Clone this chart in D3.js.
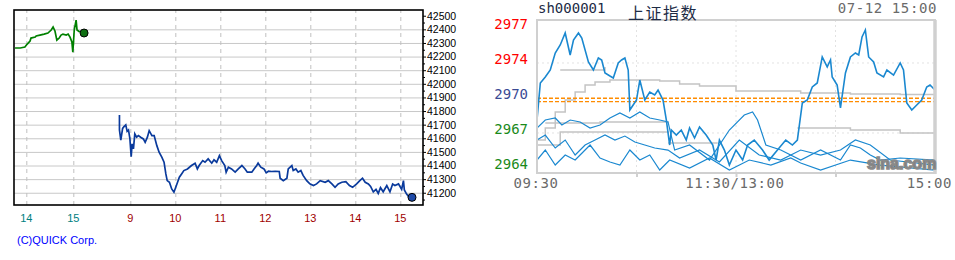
<!DOCTYPE html>
<html>
<head>
<meta charset="utf-8">
<script src="https://cdn.jsdelivr.net/npm/d3@7"></script>
<style>
  body { margin: 0; background: #fff; }
  svg text { font-family: "Liberation Sans", Arial, sans-serif; }
  .mono { font-family: "DejaVu Sans Mono", monospace !important; }
</style>
</head>
<body>
<svg id="chart" width="955" height="260"></svg>
<script>
// ---------- left chart (QUICK) ----------
// day 1 afternoon, hours
var day1Times  = [13.76, 13.87, 13.97, 14.02, 14.08, 14.10, 14.19, 14.21, 14.29, 14.38, 14.46, 14.53, 14.57, 14.61,
                  14.65, 14.70, 14.74, 14.78, 14.85, 14.89, 14.93, 14.97, 14.99, 15.02, 15.06, 15.08, 15.14, 15.23];
var day1Values = [42263, 42263, 42270, 42292, 42314, 42336, 42343, 42351, 42358, 42365, 42373, 42395, 42417, 42388,
                  42321, 42336, 42358, 42365, 42358, 42365, 42343, 42307, 42233, 42395, 42468, 42395, 42380, 42373];

// day 2, hours
var day2Times  = [8.76, 8.76, 8.79, 8.83, 8.86, 8.90, 8.93, 8.96, 8.99, 9.02, 9.04, 9.07, 9.10, 9.14, 9.18, 9.23,
                  9.29, 9.33, 9.38, 9.42, 9.48, 9.53, 9.59, 9.64, 9.70, 9.75, 9.79, 9.82, 9.87, 9.92, 9.97, 10.01,
                  10.05, 10.09, 10.14, 10.19, 10.27, 10.36, 10.44, 10.49, 10.53, 10.61, 10.66, 10.73, 10.81, 10.86,
                  10.92, 10.98, 11.03, 11.10, 11.13, 11.18, 11.25, 11.33, 11.40, 11.48, 11.55, 11.60, 11.70, 11.75,
                  11.81, 11.84, 11.90, 11.97, 12.02, 12.07, 12.14, 12.22, 12.31, 12.33, 12.40, 12.48, 12.51, 12.59,
                  12.62, 12.68, 12.73, 12.79, 12.84, 12.92, 12.99, 13.07, 13.14, 13.22, 13.33, 13.40, 13.48, 13.55,
                  13.62, 13.70, 13.79, 13.87, 13.94, 14.03, 14.10, 14.16, 14.22, 14.29, 14.34, 14.40, 14.46, 14.51,
                  14.56, 14.62, 14.70, 14.77, 14.83, 14.88, 14.96, 15.03, 15.07, 15.09, 15.14, 15.20, 15.26];
var day2Values = [41771, 41661, 41587, 41673, 41685, 41698, 41651, 41661, 41600, 41464, 41559, 41522, 41632, 41608, 41620, 41608,
                  41595, 41571, 41608, 41656, 41620, 41620, 41546, 41498, 41461, 41424, 41338, 41289, 41277, 41228, 41204, 41240,
                  41277, 41314, 41338, 41363, 41375, 41400, 41417, 41375, 41400, 41436, 41424, 41449, 41417, 41442,
                  41424, 41473, 41436, 41400, 41351, 41388, 41375, 41351, 41375, 41400, 41375, 41351, 41351, 41375,
                  41400, 41417, 41388, 41375, 41346, 41358, 41356, 41358, 41356, 41307, 41289, 41307, 41375, 41400,
                  41363, 41375, 41351, 41363, 41327, 41289, 41265, 41253, 41265, 41289, 41277, 41289, 41265, 41240,
                  41265, 41277, 41281, 41253, 41240, 41265, 41289, 41307, 41277, 41265, 41246, 41207, 41225, 41195,
                  41237, 41207, 41253, 41207, 41264, 41253, 41265, 41225, 41289, 41220, 41190, 41166, 41166];

var leftXTicks   = [14, 15, 33, 34, 35, 36, 37, 38, 39];   // day 2 hours are shifted by 24
var leftXLabels  = ["14", "15", "9", "10", "11", "12", "13", "14", "15"];
var leftYTicks   = [41200, 41300, 41400, 41500, 41600, 41700, 41800, 41900, 42000, 42100, 42200, 42300, 42400, 42500];
var leftGridY    = [41200, 41300, 41400, 41500, 41600, 41700, 41800, 41900, 42000, 42100, 42200, 42300, 42400];

// ---------- right chart (sh000001) ----------
var shMinutes = [0, 2, 5, 8, 11, 14, 17, 20, 22, 25, 27, 31, 34, 37, 39, 41, 44, 46, 49, 51, 53, 55, 56, 58, 60, 62, 65,
                 68, 71, 73, 76, 78, 80, 81, 84, 87, 90, 92, 95, 98, 102, 106, 108, 110, 113, 116, 120, 124, 127, 131,
                 136, 140, 145, 150, 154, 157, 160, 163, 166, 169, 172, 175, 177, 178, 181, 183, 186, 189, 192, 194,
                 196, 198, 200, 203, 205, 209, 211, 215, 219, 221, 223, 226, 229, 232, 235, 237, 240];
var shValues  = [2967.95, 2971.58, 2972.17, 2972.85, 2974.52, 2975.30, 2976.48, 2974.32, 2975.79, 2976.48, 2975.99,
                 2973.64, 2972.85, 2974.03, 2973.83, 2972.56, 2972.26, 2972.07, 2973.54, 2973.83, 2974.03, 2972.85,
                 2968.93, 2969.42, 2969.91, 2971.87, 2969.91, 2970.69, 2970.40, 2970.89, 2969.91, 2967.95, 2965.50,
                 2966.97, 2966.48, 2966.97, 2965.99, 2967.17, 2966.19, 2967.27, 2966.48, 2965.50, 2964.03, 2965.99,
                 2965.01, 2963.54, 2965.01, 2964.03, 2965.50, 2965.99, 2965.01, 2964.03, 2965.01, 2965.99, 2965.50,
                 2965.99, 2969.62, 2969.91, 2971.19, 2971.58, 2974.13, 2973.15, 2973.83, 2972.17, 2971.38, 2969.13,
                 2972.56, 2974.13, 2974.52, 2974.32, 2976.09, 2976.77, 2974.13, 2973.64, 2972.56, 2972.17, 2972.85,
                 2972.36, 2973.54, 2972.85, 2969.62, 2968.93, 2969.42, 2969.91, 2971.19, 2971.38, 2970.89];

// older frames left in the picture
var frameBMinutes = [0, 5, 11, 15, 20, 26, 32, 38, 44, 50, 56, 62, 68, 74, 79, 83, 92, 104, 116, 125, 130, 133, 138, 147,
                     159, 171, 183, 189, 195, 201, 207, 219, 240];
var frameBValues  = [2967.17, 2967.95, 2968.15, 2967.46, 2967.95, 2967.76, 2967.17, 2967.46, 2968.15, 2968.64, 2968.15,
                     2968.74, 2968.15, 2967.95, 2967.76, 2965.01, 2965.50, 2964.03, 2966.97, 2968.44, 2968.74, 2967.95,
                     2965.50, 2965.01, 2964.03, 2965.01, 2964.03, 2965.50, 2965.21, 2964.52, 2964.03, 2964.23, 2964.03];
var frameCMinutes = [0, 5, 11, 17, 23, 29, 35, 41, 47, 53, 59, 65, 71, 79, 86, 98, 110, 122, 134, 147, 159, 171, 183,
                     192, 201, 213, 240];
var frameCValues  = [2965.99, 2966.48, 2965.21, 2965.99, 2964.52, 2965.50, 2965.99, 2966.48, 2965.99, 2966.38, 2965.80,
                     2965.50, 2965.21, 2965.01, 2964.23, 2965.01, 2963.84, 2965.99, 2964.52, 2964.03, 2965.01, 2964.52,
                     2965.01, 2965.99, 2965.50, 2964.03, 2963.54];
var frameDMinutes = [0, 5, 11, 17, 23, 32, 38, 44, 50, 56, 62, 68, 74, 80, 92, 104, 116, 128, 141, 153, 159, 171, 189,
                     207, 240];
var frameDValues  = [2964.03, 2965.01, 2963.54, 2964.52, 2964.03, 2965.50, 2964.23, 2963.84, 2963.54, 2965.01, 2964.03,
                     2964.52, 2963.05, 2964.03, 2963.25, 2964.23, 2963.05, 2964.03, 2963.54, 2964.23, 2963.74, 2963.05,
                     2964.03, 2963.54, 2963.05];

// average lines (grey)
var avgSeries = [
  { minutes: [0, 5, 11, 17, 23, 29, 35, 44, 62, 74, 86, 98, 120, 159, 189, 219, 240],
    values:  [2965.99, 2967.17, 2968.74, 2969.91, 2970.69, 2971.38, 2971.68, 2971.87, 2971.87, 2971.77, 2971.48,
              2971.28, 2970.79, 2970.60, 2970.50, 2970.45, 2970.40] },
  { minutes: [14, 41], values: [2972.85, 2973.15] },
  { minutes: [5, 38, 79], values: [2967.66, 2967.76, 2967.66] },
  { minutes: [0, 14, 50, 79], values: [2965.50, 2966.78, 2966.78, 2966.68] },
  { minutes: [79, 109], values: [2965.70, 2965.70] },
  { minutes: [157, 189, 219, 240], values: [2967.17, 2966.97, 2966.68, 2966.48] }
];

var orangeLevels  = [2970.08, 2969.75];
var shGridValues  = [2973.54, 2966.68];
var shGridMinutes = [60, 120, 180];
var shYLabelVals  = [2977.36, 2973.93, 2970.5, 2967.07, 2963.64];
var shYLabels     = ["2977", "2974", "2970", "2967", "2964"];
var shYColors     = ["#ff0000", "#ff0000", "#3a4a94", "#1a8a1a", "#1a8a1a"];
var shXLabelMins  = [0, 120, 240];
var shXLabels     = ["09:30", "11:30/13:00", "15:00"];

var svg = d3.select("#chart");

// ======================= left =======================
var L = {left: 14, top: 10, right: 423, bottom: 205};

var xL = d3.scaleLinear()
  .domain([14, 15, 15.25, 32.75, 33, 39, 39.3])
  .range([26.3, 73.3, 85, 119, 130.3, 400.3, 413.8]);
var yL = d3.scaleLinear().domain([41110, 42542]).range([L.bottom, L.top]);

var left = svg.append("g");

// horizontal grid
left.append("g")
  .attr("transform", "translate(" + L.left + ",0)")
  .call(d3.axisRight(yL).tickValues(leftGridY).tickSize(L.right - L.left).tickFormat(""))
  .call(g => g.select(".domain").remove())
  .selectAll("line").attr("stroke", "#c8c8c8").attr("stroke-width", 1);

// vertical dashed grid
left.append("g")
  .attr("transform", "translate(0," + L.bottom + ")")
  .call(d3.axisBottom(xL).tickValues(leftXTicks).tickSize(-(L.bottom - L.top)).tickFormat(""))
  .call(g => g.select(".domain").remove())
  .selectAll("line").attr("stroke", "#c0c0c0").attr("stroke-dasharray", "4,4");

// frame
left.append("rect")
  .attr("x", L.left).attr("y", L.top)
  .attr("width", L.right - L.left).attr("height", L.bottom - L.top)
  .attr("fill", "none").attr("stroke", "#000").attr("stroke-width", 1.6);

// right axis labels + ticks
var axL = left.append("g")
  .attr("transform", "translate(" + L.right + ",0)")
  .call(d3.axisRight(yL).tickValues(leftYTicks).tickSize(3).tickPadding(1).tickFormat(d3.format("d")));
axL.select(".domain").remove();
axL.selectAll("line").attr("stroke", "#000");
axL.selectAll("text").attr("font-size", "10.5px").attr("fill", "#000")
  .style("font-family", "'Liberation Sans', Arial, sans-serif");
left.append("g")
  .attr("transform", "translate(" + L.right + ",0)")
  .call(d3.axisRight(yL).tickValues(leftYTicks.map(d => d - 50)).tickSize(2).tickFormat(""))
  .call(g => g.select(".domain").remove())
  .selectAll("line").attr("stroke", "#000");

// bottom labels
left.append("g")
  .selectAll("text")
  .data(leftXTicks)
  .join("text")
  .attr("x", d => xL(d))
  .attr("y", 222)
  .attr("text-anchor", "middle")
  .attr("font-size", "11px")
  .attr("fill", (d, i) => i < 2 ? "#008080" : "#a00000")
  .text((d, i) => leftXLabels[i]);

var lineL = d3.line().x(d => xL(d[0])).y(d => yL(d[1]));

var day1 = day1Times.map((t, i) => [t, day1Values[i]]);
var day2 = day2Times.map((t, i) => [t + 24, day2Values[i]]);

left.append("path").datum(day1.slice(0, -1))
  .attr("fill", "none").attr("stroke", "#008000").attr("stroke-width", 1.7).attr("d", lineL);
left.append("path").datum(day2.slice(0, -1))
  .attr("fill", "none").attr("stroke", "#0a3a9c").attr("stroke-width", 1.7).attr("d", lineL);

left.append("circle")
  .attr("cx", xL(day1[day1.length - 1][0])).attr("cy", yL(day1[day1.length - 1][1]))
  .attr("r", 4).attr("fill", "#0e6e12").attr("stroke", "#000").attr("stroke-width", 1);
left.append("circle")
  .attr("cx", xL(day2[day2.length - 1][0])).attr("cy", yL(day2[day2.length - 1][1]))
  .attr("r", 4).attr("fill", "#1e4aa8").attr("stroke", "#000").attr("stroke-width", 1);

left.append("text")
  .attr("x", 17).attr("y", 244)
  .attr("font-size", "11px").attr("fill", "#0000ff")
  .text("(C)QUICK Corp.");

// ======================= right =======================
var R = {left: 537, top: 20, right: 935, bottom: 173};
var xR = d3.scaleLinear().domain([0, 240]).range([R.left, R.right]);
var yR = d3.scaleLinear().domain([2962.76, 2977.75]).range([R.bottom, R.top]);

var right = svg.append("g");

right.append("clipPath").attr("id", "clipR")
  .append("rect").attr("x", R.left).attr("y", R.top)
  .attr("width", R.right - R.left).attr("height", R.bottom - R.top);

// dotted grid
right.append("g")
  .selectAll("line.h")
  .data(shGridValues)
  .join("line")
  .attr("x1", R.left).attr("x2", R.right)
  .attr("y1", d => yR(d)).attr("y2", d => yR(d))
  .attr("stroke", "#e2e2e2").attr("stroke-dasharray", "2,3");
right.append("g")
  .selectAll("line.v")
  .data(shGridMinutes)
  .join("line")
  .attr("x1", d => xR(d)).attr("x2", d => xR(d))
  .attr("y1", R.top).attr("y2", R.bottom)
  .attr("stroke", "#e2e2e2").attr("stroke-dasharray", "2,3");

var plot = right.append("g").attr("clip-path", "url(#clipR)");
var stepR = d3.line().curve(d3.curveStepAfter).x(d => xR(d[0])).y(d => yR(d[1]));
var lineR = d3.line().x(d => xR(d[0])).y(d => yR(d[1]));

avgSeries.forEach(function(s) {
  plot.append("path")
    .datum(s.minutes.map((m, i) => [m, s.values[i]]))
    .attr("fill", "none").attr("stroke", "#c4c4c4").attr("stroke-width", 1.5)
    .attr("d", stepR);
});

orangeLevels.forEach(function(v) {
  plot.append("line")
    .attr("x1", R.left).attr("x2", R.right)
    .attr("y1", yR(v)).attr("y2", yR(v))
    .attr("stroke", "#ff8c00").attr("stroke-width", 1.4).attr("stroke-dasharray", "4,2");
});

[[frameBMinutes, frameBValues], [frameCMinutes, frameCValues], [frameDMinutes, frameDValues], [shMinutes, shValues]]
  .forEach(function(s, k) {
    plot.append("path")
      .datum(s[0].map((m, i) => [m, s[1][i]]))
      .attr("fill", "none").attr("stroke", "#1a88d0")
      .attr("stroke-width", k === 3 ? 1.6 : 1.2)
      .attr("d", lineR);
  });

// frame
right.append("rect")
  .attr("x", R.left).attr("y", R.top)
  .attr("width", R.right - R.left).attr("height", R.bottom - R.top)
  .attr("fill", "none").attr("stroke", "#d0d0d0").attr("stroke-width", 2);
right.append("line")
  .attr("x1", R.right).attr("x2", R.right).attr("y1", R.top).attr("y2", R.bottom + 1)
  .attr("stroke", "#d0d0d0").attr("stroke-width", 3.5);

// bottom ticks
right.append("g")
  .attr("transform", "translate(0," + R.bottom + ")")
  .call(d3.axisBottom(xR).tickValues(shGridMinutes).tickSize(4).tickFormat(""))
  .call(g => g.select(".domain").remove())
  .selectAll("line").attr("stroke", "#d0d0d0").attr("stroke-width", 2);

// y labels
right.append("g")
  .selectAll("text")
  .data(shYLabelVals)
  .join("text")
  .attr("class", "mono")
  .attr("x", 528)
  .attr("y", d => yR(d))
  .attr("dy", "0.36em")
  .attr("text-anchor", "end")
  .attr("font-size", "14px")
  .attr("fill", (d, i) => shYColors[i])
  .text((d, i) => shYLabels[i]);

// x labels
right.append("g")
  .selectAll("text")
  .data(shXLabelMins)
  .join("text")
  .attr("class", "mono")
  .attr("x", (d, i) => i === 2 ? 952 : xR(d) - 1)
  .attr("y", 188)
  .attr("text-anchor", (d, i) => i === 2 ? "end" : "middle")
  .attr("font-size", "14px")
  .attr("letter-spacing", "0.6px")
  .attr("fill", "#6a6a6a")
  .text((d, i) => shXLabels[i]);

// header
right.append("text").attr("class", "mono")
  .attr("x", 538).attr("y", 13)
  .attr("font-size", "14px").attr("fill", "#1d2b45")
  .text("sh000001");
right.append("text")
  .attr("x", 628).attr("y", 18.6)
  .attr("font-size", "16px").attr("letter-spacing", "1.5px").attr("fill", "#1d2b45")
  .style("font-family", "'Noto Sans CJK SC', sans-serif")
  .text("上证指数");
right.append("text").attr("class", "mono")
  .attr("x", 937).attr("y", 13)
  .attr("text-anchor", "end")
  .attr("font-size", "14px").attr("letter-spacing", "0.6px").attr("fill", "#6a6a6a")
  .text("07-12 15:00");

// watermark
right.append("text")
  .attr("x", 867).attr("y", 169)
  .attr("font-size", "16px").attr("font-weight", "bold")
  .attr("fill", "#7a7a7a").attr("stroke", "#8a8a8a").attr("stroke-width", 1.5)
  .text("sina.com");
</script>
</body>
</html>
